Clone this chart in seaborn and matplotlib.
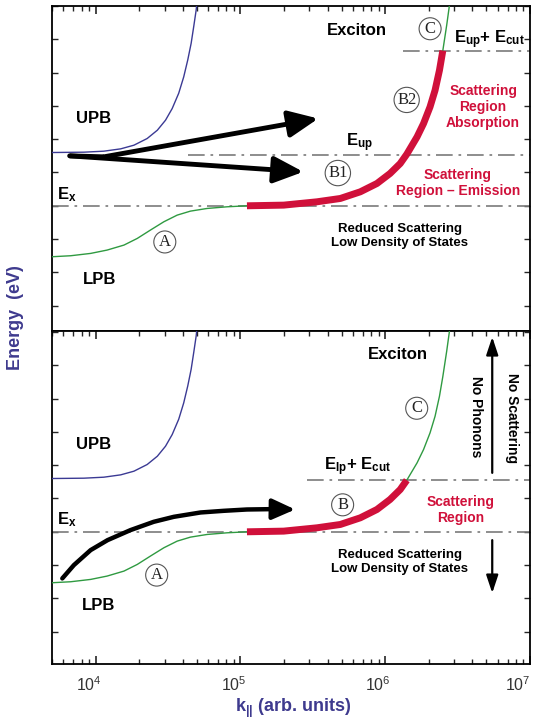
import numpy as np
import pandas as pd
import matplotlib.pyplot as plt
import matplotlib.ticker as ticker
import matplotlib.transforms as mtransforms
import seaborn as sns

# ── SETUP ─────────────────────────────────────────────────────────────────────

sns.set_theme(style="ticks")
plt.rcParams["font.family"] = ["Liberation Sans", "DejaVu Sans"]
plt.rcParams["mathtext.fontset"] = "custom"
plt.rcParams["mathtext.rm"] = "Liberation Sans"
plt.rcParams["mathtext.bf"] = "Liberation Sans:bold"
plt.rcParams["mathtext.it"] = "Liberation Sans:italic"

BLUE = "#3b3a94"
GREEN = "#2f9a41"
RED = "#d0103a"
GREY = "#7a7a7a"
LABEL = "#3e3a8e"

# ── DATA (energy relative to E_x, k in arb. units) ────────────────────────────

upb_k = [5.0e3, 8.30e3, 1.14e4, 1.49e4, 1.84e4, 2.27e4, 2.67e4, 3.04e4, 3.38e4,
         3.75e4, 4.06e4, 4.33e4, 4.57e4, 4.76e4, 4.95e4, 5.03e4, 5.2e4]
upb_e = [1.60, 1.61, 1.64, 1.71, 1.82, 2.02, 2.27, 2.57, 2.92,
         3.38, 3.87, 4.38, 4.88, 5.38, 5.88, 6.18, 6.6]

lpb_k = [5.0e3, 6.73e3, 9.24e3, 1.20e4, 1.57e4, 1.94e4, 2.39e4, 2.96e4, 3.66e4,
         4.52e4, 5.89e4, 8.09e4, 1.11e5, 1.99e5, 3.38e5, 4.90e5, 6.73e5, 8.77e5,
         1.08e6, 1.27e6, 1.41e6, 1.66e6, 1.84e6, 2.04e6, 2.21e6, 2.37e6, 2.50e6,
         2.66e6, 2.81e6]
lpb_e = [-1.53, -1.50, -1.43, -1.33, -1.18, -0.98, -0.73, -0.48, -0.28,
         -0.16, -0.08, -0.03, 0.0, 0.02, 0.12, 0.22, 0.42, 0.67,
         0.97, 1.27, 1.55, 2.07, 2.47, 2.97, 3.47, 4.07, 4.66,
         5.43, 6.18]

# black curved arrow in the lower panel
flow_k = [5.89e3, 7.08e3, 9.24e3, 1.21e4, 1.74e4, 2.52e4, 3.47e4, 5.30e4, 7.67e4, 1.11e5, 1.61e5]
flow_e = [-1.40, -1.00, -0.55, -0.25, 0.05, 0.30, 0.45, 0.58, 0.63, 0.67, 0.68]
flow_tip = (2.39e5, 0.67)

# straight arrows in the upper panel: (start, tip)
arrows_top = [((1.14e4, 1.47), (3.45e5, 2.62)),
              ((6.62e3, 1.50), (2.72e5, 1.02))]

E_X = 0.0
E_UP = 1.52
E_UP_CUT = 4.66
E_LP_CUT = 1.55
K_START = {"up": 4.37e4, "up_cut": 1.33e6, "lp_cut": 2.9e5}
K_RED = 1.11e5
XLIM = (5.0e3, 1.0e7)
XTICKS = [1e4, 1e5, 1e6, 1e7]

upb = pd.DataFrame({"k": upb_k, "E": upb_e})
lpb = pd.DataFrame({"k": lpb_k, "E": lpb_e})
flow = pd.DataFrame({"k": flow_k, "E": flow_e})

# ── FIGURE ────────────────────────────────────────────────────────────────────

W, H = 534, 724
fig = plt.figure(figsize=(W / 100, H / 100), dpi=100)
L, R = 52 / W, 530 / W
ax1 = fig.add_axes([L, 1 - 331 / H, R - L, 325 / H])
ax2 = fig.add_axes([L, 1 - 664 / H, R - L, 333 / H])

DASH = dict(color=GREY, lw=1.2, linestyle=(0, (10, 3.5, 1.6, 3.5)))


def circ(ax, fx, fy, s):
    ax.text(fx, fy, s, transform=ax.transAxes, ha="center", va="center",
            family="Liberation Serif", fontsize=12, color="#222", zorder=6,
            bbox=dict(boxstyle="circle,pad=0.18", fc="white", ec="#555", lw=0.8))


def txt(ax, fx, fy, s, size=12, color="black", ha="center", **kw):
    ax.text(fx, fy, s, transform=ax.transAxes, ha=ha, va="center",
            fontsize=size, fontweight="bold", color=color, zorder=6, **kw)


for ax, ylim, e_cut in [(ax1, (-3.76, 6.0), E_UP_CUT), (ax2, (-3.97, 6.03), E_LP_CUT)]:
    ax.set_xscale("log")
    ax.axhline(E_X, **DASH, zorder=1)
    sns.lineplot(data=upb, x="k", y="E", ax=ax, color=BLUE, lw=1.0,
                 sort=False, estimator=None, zorder=3)
    sns.lineplot(data=lpb, x="k", y="E", ax=ax, color=GREEN, lw=1.0,
                 sort=False, estimator=None, zorder=3)
    red = lpb[(lpb["k"] >= K_RED) & (lpb["E"] <= e_cut + 1e-9)]
    sns.lineplot(data=red, x="k", y="E", ax=ax, color=RED, lw=5.0,
                 sort=False, estimator=None, zorder=4, solid_capstyle="butt")
    ax.set_xlim(*XLIM)
    ax.set_ylim(*ylim)
    ax.set_xlabel("")
    ax.set_ylabel("")
    ax.yaxis.set_major_locator(ticker.MultipleLocator(1))
    ax.set_xticks(XTICKS)
    ax.xaxis.set_minor_locator(ticker.LogLocator(base=10, subs=np.arange(2, 10), numticks=20))
    ax.xaxis.set_minor_formatter(ticker.NullFormatter())
    ax.tick_params(axis="y", which="major", direction="in", left=True, right=True,
                   length=4, width=1, labelleft=False)
    ax.tick_params(axis="x", which="major", direction="in", top=True, length=6, width=1.2)
    ax.tick_params(axis="x", which="minor", direction="in", top=True, length=3.5, width=1)
    for sp in ax.spines.values():
        sp.set_color("black")
        sp.set_linewidth(1.3)

ax1.tick_params(axis="x", which="both", bottom=False, labelbottom=False)
ax2.tick_params(axis="x", which="major", labelsize=11.5, labelcolor="#333", pad=8)

# ── UPPER PANEL ───────────────────────────────────────────────────────────────

ax1.hlines(E_UP, K_START["up"], XLIM[1], **DASH, zorder=1)
ax1.hlines(E_UP_CUT, K_START["up_cut"], XLIM[1], **DASH, zorder=1)

ax1.plot([arrows_top[1][0][0], arrows_top[0][0][0]],
         [arrows_top[1][0][1], arrows_top[0][0][1]], color="black", lw=3.5,
         solid_capstyle="butt", zorder=5)
for (k0, e0), (k1, e1) in arrows_top:
    ax1.annotate("", xy=(k1, e1), xytext=(k0, e0), zorder=5,
                 arrowprops=dict(arrowstyle="-|>,head_length=1.0,head_width=0.45",
                                 lw=3.5, color="black", shrinkA=0, shrinkB=0,
                                 mutation_scale=18))

txt(ax1, 0.638, 0.926, "Exciton", 12)
circ(ax1, 0.791, 0.930, "C")
txt(ax1, 0.916, 0.895, r"$\mathbf{E_{up}}$+ $\mathbf{E_{cut}}$", 12)
txt(ax1, 0.902, 0.689, "Scattering\nRegion\nAbsorption", 10, RED, linespacing=1.15)
circ(ax1, 0.742, 0.711, "B2")
txt(ax1, 0.644, 0.578, r"$\mathbf{E_{up}}$", 12)
txt(ax1, 0.849, 0.455, "Scattering\nRegion \u2013 Emission", 10, RED, linespacing=1.15)
circ(ax1, 0.598, 0.486, "B1")
txt(ax1, 0.011, 0.42, r"$\mathbf{E_x}$", 12, ha="left")
txt(ax1, 0.086, 0.655, "UPB", 12)
txt(ax1, 0.100, 0.157, "LPB", 12)
circ(ax1, 0.236, 0.274, "A")
txt(ax1, 0.728, 0.292, "Reduced Scattering\nLow Density of States", 9.5, linespacing=1.2)

# ── LOWER PANEL ───────────────────────────────────────────────────────────────

ax2.hlines(E_LP_CUT, K_START["lp_cut"], XLIM[1], **DASH, zorder=1)

sns.lineplot(data=flow, x="k", y="E", ax=ax2, color="black", lw=3.2,
             sort=False, estimator=None, zorder=5, solid_capstyle="round")
ax2.annotate("", xy=flow_tip, xytext=(flow_k[-1], flow_e[-1]), zorder=5,
             arrowprops=dict(arrowstyle="-|>,head_length=1.0,head_width=0.45",
                             lw=3.0, color="black", shrinkA=0, shrinkB=0,
                             mutation_scale=14))
ax2.set_xlabel("")
ax2.set_ylabel("")

txt(ax2, 0.724, 0.928, "Exciton", 12)
circ(ax2, 0.763, 0.768, "C")
txt(ax2, 0.640, 0.592, r"$\mathbf{E_{lp}}$+ $\mathbf{E_{cut}}$", 12)
circ(ax2, 0.608, 0.478, "B")
txt(ax2, 0.854, 0.462, "Scattering\nRegion", 10, RED, linespacing=1.15)
txt(ax2, 0.728, 0.307, "Reduced Scattering\nLow Density of States", 9.5, linespacing=1.2)
txt(ax2, 0.011, 0.432, r"$\mathbf{E_x}$", 12, ha="left")
txt(ax2, 0.086, 0.658, "UPB", 12)
txt(ax2, 0.098, 0.177, "LPB", 12)
circ(ax2, 0.219, 0.267, "A")

for y0, y1 in [(0.574, 0.982), (0.372, 0.213)]:
    ax2.annotate("", xy=(0.921, y1), xytext=(0.921, y0), xycoords="axes fraction",
                 arrowprops=dict(arrowstyle="-|>,head_length=0.9,head_width=0.3",
                                 lw=1.6, color="black", shrinkA=0, shrinkB=0,
                                 mutation_scale=12))
txt(ax2, 0.888, 0.742, "No Phonons", 10, rotation=-90)
txt(ax2, 0.962, 0.739, "No Scattering", 10, rotation=-90)

# ── AXIS LABELS ───────────────────────────────────────────────────────────────

fig.text(16 / W, 1 - 318 / H, "Energy  (eV)", rotation=90, ha="center", va="center",
         fontsize=13, fontweight="bold", color=LABEL)
fig.text(293 / W, 1 - 708 / H, r"$\mathbf{k_{||}}$ (arb. units)", ha="center", va="center",
         fontsize=13, fontweight="bold", color=LABEL)

# tick labels sit a little left of their ticks in the original
fig.canvas.draw()
labels = ax2.get_xticklabels()
for i, lbl in enumerate(labels):
    dx = -12 if i == len(labels) - 1 else -7
    lbl.set_transform(lbl.get_transform()
                      + mtransforms.ScaledTranslation(dx / 100, 0, fig.dpi_scale_trans))

fig.savefig("out.png", dpi=100, facecolor="white")
